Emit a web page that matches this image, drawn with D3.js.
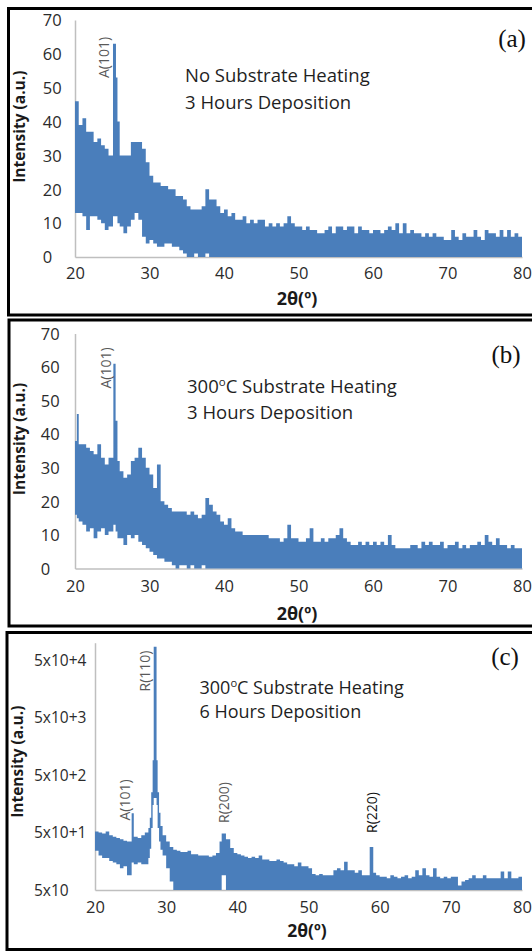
<!DOCTYPE html>
<html><head><meta charset="utf-8">
<script src="https://cdn.jsdelivr.net/npm/d3@7"></script>
<style>body{margin:0;background:#fff}svg{display:block}</style>
</head><body>
<svg id="chart" width="532" height="951"></svg>
<script>
// ---------------- DATA ----------------
const xTicks = [20, 30, 40, 50, 60, 70, 80];
const linTicks = [0, 10, 20, 30, 40, 50, 60, 70];
const logTicks = [5, 50, 500, 5000, 50000];
const logTickLabels = ["5x10", "5x10+1", "5x10+2", "5x10+3", "5x10+4"];

// Panel (a): No substrate heating, 3 h
const aX = [
  20,20.5,21,21.5,22,22.5,23,23.5,24,24.5,
  25.1,25.5,25.7,26,26.5,27,27.5,28,28.5,29,
  29.5,30,30.5,31,31.5,32,32.5,33,33.5,34,
  34.5,35,35.5,36,36.5,37,37.5,38,38.5,39,
  39.5,40,40.5,41,41.5,42,42.5,43,43.5,44,
  44.5,45,45.5,46,46.5,47,47.5,48,48.5,49,
  49.5,50,50.5,51,51.5,52,52.5,53,53.5,54,
  54.5,55,55.5,56,56.5,57,57.5,58,58.5,59,
  59.5,60,60.5,61,61.5,62,62.5,63,63.5,64,
  64.5,65,65.5,66,66.5,67,67.5,68,68.5,69,
  69.5,70,70.5,71,71.5,72,72.5,73,73.5,74,
  74.5,75,75.5,76,76.5,77,77.5,78,78.5,79,
  79.5,80];
const aHi = [
  46,39,41,37,37,34,35,33,32,30,
  63,53,40,30,30,30,34,34,34,32,
  28,24,22,22,21,21,20,20,18,18,
  17,15,14,14,14,15,20,17,17,15,
  13,14,12,13,11,11,12,10,11,10,
  11,11,9,10,9,10,9,10,12,10,
  9,9,8,9,8,8,7,7,8,9,
  7,9,9,8,9,9,7,9,8,8,
  7,8,8,7,8,9,8,10,7,10,
  7,8,7,7,6,7,6,7,6,6,
  5,5,8,6,5,7,6,6,8,6,
  5,8,7,7,6,8,6,8,6,7,
  6,7];
const aLo = [
  13,13,12,8,12,12,11,10,8,9,
  12,12,10,9,7,9,11,13,11,6,
  4,5,4,3,3,4,4,3,3,2,
  1,0,0,1,0,0,1,0,0,0,
  0,0,0,0,0,0,0,0,0,0,
  0,0,0,0,0,0,0,0,0,0,
  0,0,0,0,0,0,0,0,0,0,
  0,0,0,0,0,0,0,0,0,0,
  0,0,0,0,0,0,0,0,0,0,
  0,0,0,0,0,0,0,0,0,0,
  0,0,0,0,0,0,0,0,0,0,
  0,0,0,0,0,0,0,0,0,0,
  0,0];

// Panel (b): 300 °C substrate heating, 3 h
const bX = [
  20,20.25,20.5,21,21.5,22,22.5,23,23.5,24,
  24.5,25.15,25.45,25.7,26,26.5,27,27.5,28,28.5,
  29,29.5,30,30.5,31,31.5,32,32.5,33,33.5,
  34,34.5,35,35.5,36,36.5,37,37.5,38,38.5,
  39,39.5,40,40.5,41,41.5,42,42.5,43,43.5,
  44,44.5,45,45.5,46,46.5,47,47.5,48,48.5,
  49,49.5,50,50.5,51,51.5,52,52.5,53,53.5,
  54,54.5,55,55.5,56,56.5,57,57.5,58,58.5,
  59,59.5,60,60.5,61,61.5,62,62.5,63,63.5,
  64,64.5,65,65.5,66,66.5,67,67.5,68,68.5,
  69,69.5,70,70.5,71,71.5,72,72.5,73,73.5,
  74,74.5,75,75.5,76,76.5,77,77.5,78,78.5,
  79,79.5,80];
const bHi = [
  38,46,37,37,36,35,34,37,33,31,
  33,61,44,32,29,27,28,32,33,36,
  33,30,28,24,31,20,19,18,17,17,
  17,17,16,17,16,15,16,21,19,17,
  16,14,13,15,12,11,11,10,10,10,
  10,10,10,10,9,9,9,8,9,13,
  9,9,8,8,9,12,8,8,9,8,
  9,9,10,12,9,8,7,7,8,7,
  8,7,8,7,8,7,10,7,6,6,
  6,6,7,7,6,8,7,8,7,7,
  8,6,7,7,8,6,7,6,7,7,
  8,7,10,8,7,9,7,7,6,7,
  6,6,5];
const bLo = [
  16,15,14,13,11,12,9,11,12,10,
  11,13,11,9,9,7,10,9,10,8,
  7,6,5,4,3,3,2,2,1,0,
  1,1,0,1,0,0,1,0,0,0,
  0,0,0,0,0,0,0,0,0,0,
  0,0,0,0,0,0,0,0,0,0,
  0,0,0,0,0,0,0,0,0,0,
  0,0,0,0,0,0,0,0,0,0,
  0,0,0,0,0,0,0,0,0,0,
  0,0,0,0,0,0,0,0,0,0,
  0,0,0,0,0,0,0,0,0,0,
  0,0,0,0,0,0,0,0,0,0,
  0,0,0];

// Panel (c): 300 °C substrate heating, 6 h (log intensity)
const cX = [
  20,20.5,21,21.5,22,22.5,23,23.5,24,24.5,
  25.15,25.45,26,26.5,27,27.5,27.7,27.9,28.1,28.25,
  28.65,28.8,29,29.2,29.5,30,30.5,31,31.5,32,
  32.5,33,33.5,34,34.5,35,35.5,36,36.5,37,
  37.5,37.8,38.4,39,39.5,40,40.5,41,41.5,42,
  42.5,43,43.5,44,44.5,45,45.5,46,46.5,47,
  47.5,48,48.5,49,49.5,50,50.5,51,51.5,52,
  52.5,53,53.5,54,54.5,55,55.5,56,56.5,57,
  57.5,58,58.6,59.1,59.5,60,60.5,61,61.5,62,
  62.5,63,63.5,64,64.5,65,65.5,66,66.5,67,
  67.5,68,68.5,69,69.5,70,70.5,71,71.5,72,
  72.5,73,73.5,74,74.5,75,75.5,76,76.5,77,
  77.5,78,78.5,79,79.5,80];
const cHi = [
  52,50,48,52,45,42,40,38,36,35,
  108,42,40,45,50,60,90,250,900,85000,
  900,250,110,65,45,35,28,25,24,23,
  23,24,21,21,20,20,20,19,20,22,
  35,48,38,27,22,21,20,19,18,19,
  18,20,17,17,16,16,17,16,15,14,
  14,13,15,13,13,12,9.5,9,9.5,9,
  9,9,11,12,11,15.5,11,11,10,11,
  9,9,28,10,9,8.5,8.5,8,9,8.5,
  8,8.5,9,8,8.5,11,9,12,9,8.5,
  12,8.5,8,8.5,8,8.5,8.5,6,7,7.5,
  8,9,8,8,9,8,8,8,8,10.5,
  8,10.5,8,8,8.5,9];
const cLo = [
  24,20,18,18,16,15,14,12,13,9,
  15,14,15,14,14,18,26,60,150,200,
  150,60,35,25,20,12,7,5,5,5,
  5,5,5,5,5,5,5,5,5,5,
  5,9,5,5,5,5,5,5,5,5,
  5,5,5,5,5,5,5,5,5,5,
  5,5,5,5,5,5,5,5,5,5,
  5,5,5,5,5,5,5,5,5,5,
  5,5,5,5,5,5,5,5,5,5,
  5,5,5,5,5,5,5,5,5,5,
  5,5,5,5,5,5,5,5,5,5,
  5,5,5,5,5,5,5,5,5,5,
  5,5,5,5,5,5];

// ---------------- DRAWING ----------------
const svg = d3.select("#chart");
const BLUE = "#4a7ebb";
const AXIS = "#bfbfbf";
const FONT = "'Open Sans', 'DejaVu Sans', sans-serif";

const panels = [
  { id:"a", xs:aX, hi:aHi, lo:aLo, log:false,
    border:{x:8.5, y:8.5, b:315},
    xr:[75,522], yr:[257,20], ydom:[0,70],
    yLabX:42.7, xLabOff:16.5, xTitle:[297,298.5], xTitleSize:18, yTitle:[20,126.7],
    note:{x:185, y1:81.7, y2:109.3, size:18.5, l1:["No Substrate Heating"], l2:"3 Hours Deposition"},
    tag:{t:"(a)", x:512, y:47},
    peaks:[{t:"A(101)", x:104.5, y:57.5, c:"#595959"}] },
  { id:"b", xs:bX, hi:bHi, lo:bLo, log:false,
    border:{x:9, y:320, b:626},
    xr:[75,522], yr:[568.5,333.5], ydom:[0,70],
    yLabX:40.7, xLabOff:17.5, xTitle:[297,613.5], xTitleSize:18, yTitle:[20,439],
    note:{x:187, y1:393.3, y2:419, size:18.5, l1:["300","o","C Substrate Heating"], l2:"3 Hours Deposition"},
    tag:{t:"(b)", x:506, y:363},
    peaks:[{t:"A(101)", x:106.5, y:368, c:"#595959"}] },
  { id:"c", xs:cX, hi:cHi, lo:cLo, log:true,
    border:{x:7, y:632.5, b:949.5},
    xr:[95,522], yr:[890,642.7], ydom:[5,100000],
    yLabX:34, xLabOff:17.5, xTitle:[307,931], xTitleSize:17.5, yTitle:[17.5,761.7],
    note:{x:199.5, y1:694.3, y2:718.3, size:18, l1:["300","o","C Substrate Heating"], l2:"6 Hours Deposition"},
    tag:{t:"(c)", x:505, y:665},
    peaks:[{t:"R(110)", x:145, y:671, c:"#595959"},
           {t:"A(101)", x:125, y:800, c:"#595959"},
           {t:"R(200)", x:224, y:802.5, c:"#595959"},
           {t:"R(220)", x:371.7, y:812.5, c:"#111"}] }
];

panels.forEach(p => {
  const g = svg.append("g");
  // frame
  g.append("rect")
    .attr("x", p.border.x).attr("y", p.border.y)
    .attr("width", 600).attr("height", p.border.b - p.border.y)
    .attr("fill", "none").attr("stroke", "#000").attr("stroke-width", 3);

  const x = d3.scaleLinear().domain([20, 80]).range(p.xr);
  const y = p.log ? d3.scaleLog().domain(p.ydom).range(p.yr)
                  : d3.scaleLinear().domain(p.ydom).range(p.yr);
  const yBase = p.log ? y(5) : y(0);

  // axes
  const xAxis = d3.axisBottom(x).tickValues(xTicks).tickSize(0).tickSizeOuter(0)
      .tickFormat(d3.format("d"));
  const gx = g.append("g").attr("transform", `translate(0,${yBase})`).call(xAxis);
  gx.select(".domain").attr("stroke", AXIS).attr("stroke-width", 1.5);
  gx.selectAll("text").attr("y", p.xLabOff).attr("dy", "0.35em")
    .attr("font-family", FONT).attr("font-size", 16.5).attr("fill", "#2b2b2b");

  const yAxis = d3.axisLeft(y).tickSize(0).tickSizeOuter(0);
  if (p.log) yAxis.tickValues(logTicks).tickFormat((d, i) => logTickLabels[i]);
  else yAxis.tickValues(linTicks).tickFormat(d3.format("d"));
  const gy = g.append("g").attr("transform", `translate(${p.xr[0]},0)`).call(yAxis);
  gy.select(".domain").attr("stroke", AXIS).attr("stroke-width", 1.5);
  gy.selectAll("text").attr("x", p.yLabX - p.xr[0]).attr("text-anchor", "start")
    .attr("dy", "0.35em").attr("font-family", FONT)
    .attr("font-size", p.log ? 15.5 : 16.5).attr("fill", "#2b2b2b");

  // data band
  const data = p.xs.map((v, i) => ({x: v, hi: p.hi[i], lo: p.lo[i]}));
  const area = d3.area()
    .x(d => x(d.x))
    .y0(d => y(p.log ? Math.max(d.lo, 5) : d.lo))
    .y1(d => y(d.hi))
    .curve(d3.curveStepAfter);
  g.append("path").datum(data).attr("d", area).attr("fill", BLUE).attr("stroke", "none");

  // axis titles
  g.append("text").attr("transform", `translate(${p.yTitle[0]},${p.yTitle[1]}) rotate(-90)`)
    .attr("text-anchor", "middle").attr("dy", "0.35em")
    .attr("font-family", FONT).attr("font-weight", "bold").attr("font-size", 15.5)
    .attr("fill", "#1a1a1a").text("Intensity (a.u.)");
  g.append("text").attr("x", p.xTitle[0]).attr("y", p.xTitle[1])
    .attr("text-anchor", "middle").attr("dy", "0.35em")
    .attr("font-family", FONT).attr("font-weight", "bold").attr("font-size", p.xTitleSize)
    .attr("fill", "#1a1a1a").text("2θ(º)");

  // annotation
  const n = p.note;
  const t1 = g.append("text").attr("x", n.x).attr("y", n.y1)
    .attr("font-family", FONT).attr("font-size", n.size).attr("fill", "#1f1f1f");
  if (n.l1.length === 1) t1.text(n.l1[0]);
  else {
    t1.append("tspan").text(n.l1[0]);
    t1.append("tspan").attr("dy", -7).attr("font-size", n.size * 0.62).text(n.l1[1]);
    t1.append("tspan").attr("dy", 7).text(n.l1[2]);
  }
  g.append("text").attr("x", n.x).attr("y", n.y2)
    .attr("font-family", FONT).attr("font-size", n.size).attr("fill", "#1f1f1f").text(n.l2);

  // panel tag
  g.append("text").attr("x", p.tag.x).attr("y", p.tag.y).attr("text-anchor", "middle")
    .attr("font-family", "'Liberation Serif', 'Times New Roman', serif")
    .attr("font-size", 25).attr("fill", "#111").text(p.tag.t);

  // peak labels
  p.peaks.forEach(k => {
    g.append("text").attr("transform", `translate(${k.x},${k.y}) rotate(-90)`)
      .attr("text-anchor", "middle").attr("dy", "0.35em")
      .attr("font-family", FONT).attr("font-size", 14).attr("fill", k.c).text(k.t);
  });
});
</script>
</body></html>
